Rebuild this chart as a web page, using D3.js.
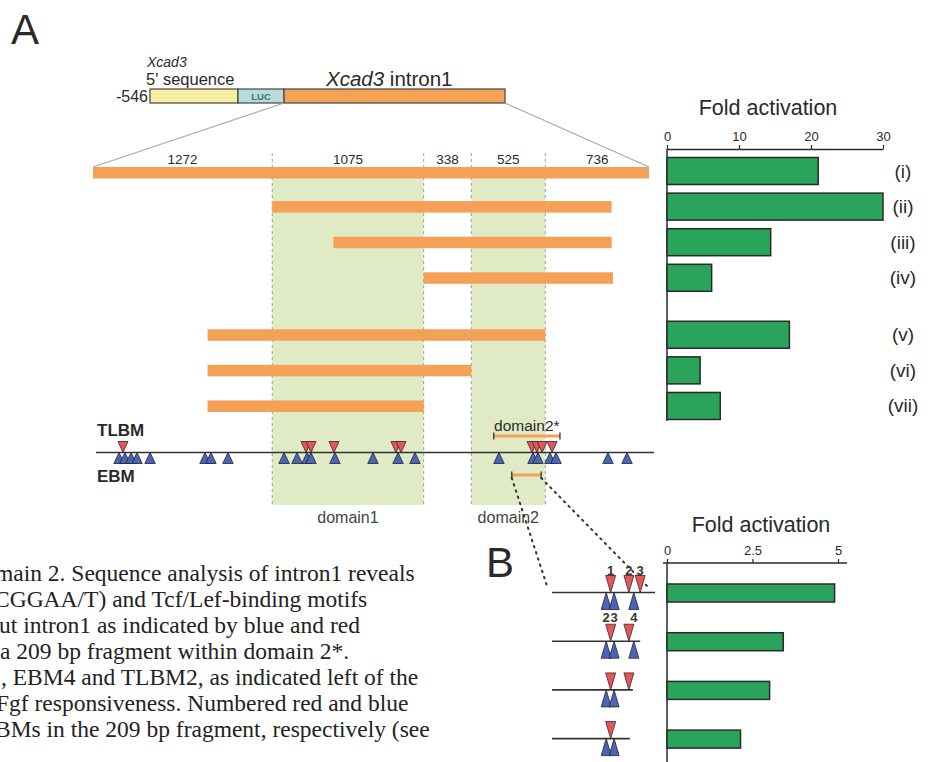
<!DOCTYPE html>
<html><head><meta charset="utf-8">
<script src="https://cdn.jsdelivr.net/npm/d3@7"></script>
<style>body{margin:0;background:#fff}svg{display:block}</style>
</head><body><svg id="c" width="932" height="762"></svg>
<script>
// ---------------- DATA ----------------
const segmentLengths = [1272, 1075, 338, 525, 736];
const domainSegmentIdx = [1, 3];
const domainNames = ['domain1', 'domain2'];
const constructIds = ['(i)', '(ii)', '(iii)', '(iv)', '(v)', '(vi)', '(vii)'];
const constructGroup = [0, 0, 0, 0, 1, 1, 1];
const constructStart = [0, 1272, 1706, 2347, 813, 813, 813];
const constructEnd = [3946, 3681, 3681, 3690, 3210, 2685, 2347];
const foldA = [21, 30, 14.4, 6.2, 17, 4.6, 7.4];
const foldATicks = [0, 10, 20, 30];
const tlbmSites = [213, 1512, 1547, 1710, 2150, 2186, 3116, 3151, 3187, 3258];
const ebmSites = [185, 227, 270, 312, 405, 795, 837, 958, 1356, 1448, 1519, 1547, 1717, 1987, 2165, 2285, 2881, 3123, 3158, 3243, 3286, 3655, 3790];
const domain2Star = [2844, 3314];
const fragment209 = [2972, 3181];
const fragRowEnd = [209, 179, 164, 158];
const fragTlbm = [[119, 156, 179], [119, 156], [119, 156], [119]];
const fragEbm = [[110, 126, 166], [110, 126, 166], [110, 126], [110, 126]];
const fragTlbmLabels = ['1', '2', '3'];
const fragEbmLabels = ['2', '3', '4'];
const foldB = [4.9, 3.4, 3.0, 2.15];
const foldBTicks = [0, 2.5, 5];
const captionLines = [
  'main 2. Sequence analysis of intron1 reveals',
  'CGGAA/T) and Tcf/Lef-binding motifs',
  'ut intron1 as indicated by blue and red',
  'a 209 bp fragment within domain 2*.',
  ', EBM4 and TLBM2, as indicated left of the',
  'Fgf responsiveness. Numbered red and blue',
  'BMs in the 209 bp fragment, respectively (see'
];
const captionX = [-5, -6, -1, 0, 1, -4, -5];

// ---------------- STYLE / LAYOUT ----------------
const SANS = '"Liberation Sans", Arial, Helvetica, sans-serif';
const SERIF = '"Liberation Serif", "Times New Roman", serif';
const ORANGE = '#f4a056', GREENBG = '#e0ebc6', GREEN = '#2aa45a', BLUE = '#4c64b4', RED = '#e05858', INK = '#2a2a2a';

const svg = d3.select('#c');
svg.append('rect').attr('width', 932).attr('height', 762).attr('fill', '#fff');

const total = d3.sum(segmentLengths);
const bounds = d3.cumsum([0, ...segmentLengths]);
const xA = d3.scaleLinear().domain([0, total]).range([93, 649]);
const rowPos = d => d.i + constructGroup[d.i] * 0.6;
const yRow = d3.scaleLinear().domain([0, 1]).range([171, 206.6]);
const rows = constructIds.map((id, i) => ({i, id, s: constructStart[i], e: constructEnd[i], v: foldA[i]}));

// Panel label A
svg.append('text').attr('x', 11).attr('y', 44).attr('font-family', SANS).attr('font-size', 42).attr('fill', INK).text('A');

// Top construct (schematic)
const TOPX = [150, 238, 284, 505], TOPY = 89, TOPH = 14;
const topFill = ['#f7efa2', '#b9dcd6', ORANGE];
svg.append('g').selectAll('rect').data(topFill).join('rect')
  .attr('x', (d, i) => TOPX[i]).attr('width', (d, i) => TOPX[i + 1] - TOPX[i])
  .attr('y', TOPY).attr('height', TOPH).attr('fill', d => d).attr('stroke', '#444').attr('stroke-width', 1.2);
svg.append('text').attr('x', (TOPX[1] + TOPX[2]) / 2).attr('y', TOPY + 10.5).attr('text-anchor', 'middle')
  .attr('font-family', SANS).attr('font-size', 9.5).attr('font-weight', 'bold').attr('fill', '#3d6f72').text('LUC');
svg.append('text').attr('x', TOPX[0] - 2).attr('y', 102).attr('text-anchor', 'end').attr('font-family', SANS).attr('font-size', 16).attr('fill', INK).text('-546');
svg.append('text').attr('x', 147).attr('y', 67).attr('font-family', SANS).attr('font-size', 14).attr('font-style', 'italic').attr('fill', INK).text('Xcad3');
svg.append('text').attr('x', 146).attr('y', 85).attr('font-family', SANS).attr('font-size', 16.5).attr('fill', INK).text("5' sequence");
const tIntron = svg.append('text').attr('x', 326).attr('y', 86).attr('font-family', SANS).attr('font-size', 20.5).attr('fill', INK);
tIntron.append('tspan').attr('font-style', 'italic').text('Xcad3');
tIntron.append('tspan').text(' intron1');

// zoom lines
svg.append('line').attr('x1', TOPX[2]).attr('y1', TOPY + TOPH).attr('x2', xA(0)).attr('y2', 167).attr('stroke', '#aaa').attr('stroke-width', 1.2);
svg.append('line').attr('x1', TOPX[3]).attr('y1', TOPY + TOPH).attr('x2', xA(total)).attr('y2', 167).attr('stroke', '#aaa').attr('stroke-width', 1.2);

// green domains
const gDom = svg.append('g');
domainSegmentIdx.forEach((si, k) => {
  gDom.append('rect').attr('x', xA(bounds[si])).attr('width', xA(bounds[si + 1]) - xA(bounds[si]))
    .attr('y', 178).attr('height', 505 - 178).attr('fill', GREENBG);
  gDom.append('text').attr('x', (xA(bounds[si]) + xA(bounds[si + 1])) / 2).attr('y', 523).attr('text-anchor', 'middle')
    .attr('font-family', SANS).attr('font-size', 16).attr('fill', '#444').text(domainNames[k]);
});
// dashed boundaries
svg.append('g').selectAll('line').data(bounds.slice(1, 5)).join('line')
  .attr('x1', d => xA(d)).attr('x2', d => xA(d)).attr('y1', 153).attr('y2', 505)
  .attr('stroke', '#9aa0a0').attr('stroke-width', 1).attr('stroke-dasharray', '3,3');

// segment labels
svg.append('g').selectAll('text').data(segmentLengths).join('text')
  .attr('x', (d, i) => (xA(bounds[i]) + xA(bounds[i + 1])) / 2).attr('y', 164).attr('text-anchor', 'middle')
  .attr('font-family', SANS).attr('font-size', 13.5).attr('fill', INK).text(d => d);

// construct bars
svg.append('g').selectAll('rect').data(rows).join('rect')
  .attr('x', d => xA(d.s)).attr('width', d => xA(d.e) - xA(d.s))
  .attr('y', d => yRow(rowPos(d)) - 5.5 + (d.i === 0 ? 1.5 : 0)).attr('height', 11.5).attr('fill', ORANGE);

// fold activation A
const xFA = d3.scaleLinear().domain([0, 30]).range([667, 883]);
svg.append('text').attr('x', 768).attr('y', 115).attr('text-anchor', 'middle').attr('font-family', SANS).attr('font-size', 21.5).attr('fill', INK).text('Fold activation');
const axA = svg.append('g').attr('transform', 'translate(0,149)')
  .call(d3.axisTop(xFA).tickValues(foldATicks).tickSize(4).tickSizeOuter(0).tickFormat(d3.format('d')));
axA.select('.domain').attr('stroke', INK).attr('stroke-width', 1.5);
axA.selectAll('.tick line').attr('stroke', INK).attr('stroke-width', 1.2);
axA.selectAll('.tick text').attr('font-family', SANS).attr('font-size', 13).attr('fill', INK).attr('dy', '-0.1em');
svg.append('line').attr('x1', xFA(0)).attr('x2', xFA(0)).attr('y1', 149).attr('y2', 421).attr('stroke', INK).attr('stroke-width', 1.5);
svg.append('g').selectAll('rect').data(rows).join('rect')
  .attr('x', xFA(0)).attr('width', d => xFA(d.v) - xFA(0))
  .attr('y', d => yRow(rowPos(d)) - 13.5).attr('height', 27)
  .attr('fill', GREEN).attr('stroke', INK).attr('stroke-width', 1.5);
svg.append('g').selectAll('text').data(rows).join('text')
  .attr('x', 903).attr('y', d => yRow(rowPos(d)) + 6.5).attr('text-anchor', 'middle')
  .attr('font-family', SANS).attr('font-size', 19).attr('fill', INK).text(d => d.id);

// TLBM / EBM track
const yT = 452.5;
svg.append('text').attr('x', 97).attr('y', 436).attr('font-family', SANS).attr('font-size', 17).attr('font-weight', 'bold').attr('fill', INK).text('TLBM');
svg.append('text').attr('x', 97).attr('y', 482).attr('font-family', SANS).attr('font-size', 17).attr('font-weight', 'bold').attr('fill', INK).text('EBM');
svg.append('line').attr('x1', xA(0) + 3).attr('x2', xA(total) + 5).attr('y1', yT).attr('y2', yT).attr('stroke', '#333').attr('stroke-width', 1.6);
const triDown = (x, y, w, h) => `M${x - w / 2},${y - h}L${x + w / 2},${y - h}L${x},${y}Z`;
const triUp = (x, y, w, h) => `M${x - w / 2},${y + h}L${x + w / 2},${y + h}L${x},${y}Z`;
svg.append('g').selectAll('path').data(ebmSites).join('path')
  .attr('d', d => triUp(xA(d), yT, 10.5, 11)).attr('fill', BLUE).attr('stroke', '#223').attr('stroke-width', 0.8);
svg.append('g').selectAll('path').data(tlbmSites).join('path')
  .attr('d', d => triDown(xA(d), yT, 10, 11)).attr('fill', RED).attr('stroke', '#422').attr('stroke-width', 0.8);

function rangeBar(r, y) {
  svg.append('line').attr('x1', xA(r[0])).attr('x2', xA(r[1])).attr('y1', y).attr('y2', y).attr('stroke', ORANGE).attr('stroke-width', 3);
  svg.append('g').selectAll('line').data(r).join('line').attr('x1', d => xA(d)).attr('x2', d => xA(d))
    .attr('y1', y - 3.5).attr('y2', y + 3.5).attr('stroke', '#333').attr('stroke-width', 1.3);
}
rangeBar(domain2Star, 436);
svg.append('text').attr('x', (xA(domain2Star[0]) + xA(domain2Star[1])) / 2).attr('y', 431).attr('text-anchor', 'middle')
  .attr('font-family', SANS).attr('font-size', 15.5).attr('fill', INK).text('domain2*');
rangeBar(fragment209, 475);

// ---------------- Panel B ----------------
svg.append('text').attr('x', 486).attr('y', 577).attr('font-family', SANS).attr('font-size', 42).attr('fill', INK).text('B');
const bX = d3.scaleLinear().domain([0, 209]).range([552, 655]);
const yB = d3.scaleLinear().domain([0, 1]).range([592.5, 641.2]);
const xFB = d3.scaleLinear().domain([0, 5]).range([667, 838]);

// dotted connectors
[[fragment209[0], 0, -4], [fragment209[1], 209, -5]].forEach(([a, b, off]) => {
  svg.append('line').attr('x1', xA(a)).attr('y1', 478).attr('x2', bX(b) + off).attr('y2', 589)
    .attr('stroke', '#333').attr('stroke-width', 2).attr('stroke-dasharray', '1.5,5').attr('stroke-linecap', 'round');
});

svg.append('text').attr('x', 761).attr('y', 532).attr('text-anchor', 'middle').attr('font-family', SANS).attr('font-size', 21.5).attr('fill', INK).text('Fold activation');
const axB = svg.append('g').attr('transform', 'translate(0,563)')
  .call(d3.axisTop(xFB).tickValues(foldBTicks).tickSize(4).tickSizeOuter(0).tickFormat(d3.format('')));
axB.select('.domain').remove();
axB.selectAll('.tick line').attr('stroke', INK).attr('stroke-width', 1.2);
axB.selectAll('.tick text').attr('font-family', SANS).attr('font-size', 13).attr('fill', INK).attr('dy', '-0.1em');
svg.append('line').attr('x1', xFB(0) - 4).attr('x2', xFB(5) + 9).attr('y1', 563).attr('y2', 563).attr('stroke', INK).attr('stroke-width', 1.5);
svg.append('line').attr('x1', xFB(0)).attr('x2', xFB(0)).attr('y1', 563).attr('y2', 762).attr('stroke', INK).attr('stroke-width', 1.5);

const bRows = foldB.map((v, i) => ({i, v, end: fragRowEnd[i], t: fragTlbm[i], e: fragEbm[i]}));
svg.append('g').selectAll('rect').data(bRows).join('rect')
  .attr('x', xFB(0)).attr('width', d => xFB(d.v) - xFB(0)).attr('y', d => yB(d.i) - 8.5).attr('height', 18)
  .attr('fill', GREEN).attr('stroke', INK).attr('stroke-width', 1.5);

const gRows = svg.append('g').selectAll('g').data(bRows).join('g');
gRows.append('line').attr('x1', bX(0)).attr('x2', d => bX(d.end)).attr('y1', d => yB(d.i)).attr('y2', d => yB(d.i))
  .attr('stroke', '#333').attr('stroke-width', 1.6);
gRows.selectAll('path.e').data(d => d.e.map(s => ({s, y: yB(d.i)}))).join('path').attr('class', 'e')
  .attr('d', p => triUp(bX(p.s), p.y, 10, 17)).attr('fill', BLUE).attr('stroke', '#223').attr('stroke-width', 0.8);
gRows.selectAll('path.t').data(d => d.t.map(s => ({s, y: yB(d.i)}))).join('path').attr('class', 't')
  .attr('d', p => triDown(bX(p.s), p.y, 10, 17)).attr('fill', RED).attr('stroke', '#422').attr('stroke-width', 0.8);

svg.append('g').selectAll('text').data(fragTlbm[0]).join('text')
  .attr('x', d => bX(d)).attr('y', yB(0) - 18).attr('text-anchor', 'middle')
  .attr('font-family', SANS).attr('font-size', 13).attr('font-weight', 'bold').attr('fill', '#333').text((d, i) => fragTlbmLabels[i]);
svg.append('g').selectAll('text').data(fragEbm[0]).join('text')
  .attr('x', d => bX(d)).attr('y', yB(0) + 29.5).attr('text-anchor', 'middle')
  .attr('font-family', SANS).attr('font-size', 13).attr('font-weight', 'bold').attr('fill', '#333').text((d, i) => fragEbmLabels[i]);

// ---------------- Caption ----------------
svg.append('g').selectAll('text').data(captionLines).join('text')
  .attr('x', (d, i) => captionX[i]).attr('y', (d, i) => 581 + i * 26)
  .attr('font-family', SERIF).attr('font-size', 23.5).attr('fill', '#222').text(d => d);
</script></body></html>
